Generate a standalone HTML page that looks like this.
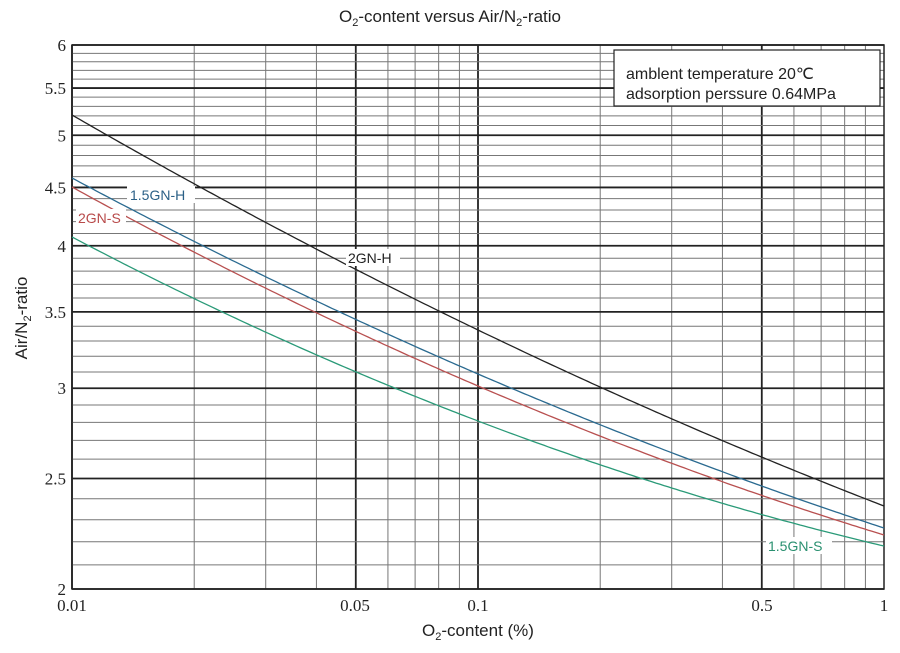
<!DOCTYPE html><html><head><style>body{margin:0;background:#fff}</style></head><body>
<svg width="900" height="648" xmlns="http://www.w3.org/2000/svg" font-family="Liberation Sans, sans-serif">
<g id="g"></g>
<rect x="72" y="45" width="812" height="544" fill="none" stroke="#222" stroke-width="1.5"/>
<g id="c"></g>
<rect x="614" y="50" width="266" height="56" fill="#fff" stroke="#222" stroke-width="1.2"/>
<text x="626" y="79" font-size="16" fill="#222">amblent temperature 20℃</text>
<text x="626" y="99" font-size="16" fill="#222">adsorption perssure  0.64MPa</text>
<text x="450" y="22" font-size="17" text-anchor="middle" fill="#222">O<tspan font-size="11" dy="4">2</tspan><tspan dy="-4">-content versus Air/N</tspan><tspan font-size="11" dy="4">2</tspan><tspan dy="-4">-ratio</tspan></text>
<text x="478" y="636" font-size="17" text-anchor="middle" fill="#222">O<tspan font-size="11" dy="4">2</tspan><tspan dy="-4">-content (%)</tspan></text>
<text transform="translate(27,318) rotate(-90)" font-size="17" text-anchor="middle" fill="#222">Air/N<tspan font-size="11" dy="4">2</tspan><tspan dy="-4">-ratio</tspan></text>
<g font-family="Liberation Serif, serif" font-size="17" fill="#222">
<text x="72" y="611" text-anchor="middle">0.01</text><text x="355" y="611" text-anchor="middle">0.05</text>
<text x="478" y="611" text-anchor="middle">0.1</text><text x="762" y="611" text-anchor="middle">0.5</text><text x="884" y="611" text-anchor="middle">1</text>
</g>
<g id="yl" font-family="Liberation Serif, serif" font-size="17" fill="#222" text-anchor="end"></g>
<g font-size="14">
<rect x="127" y="186" width="68" height="17" fill="#fff"/><text x="130" y="200" fill="#2a5f86">1.5GN-H</text>
<rect x="76" y="209" width="50" height="17" fill="#fff"/><text x="78" y="223" fill="#b84a4a">2GN-S</text>
<rect x="346" y="249" width="54" height="17" fill="#fff"/><text x="348" y="263" fill="#222">2GN-H</text>
<rect x="766" y="537" width="66" height="17" fill="#fff"/><text x="768" y="551" fill="#2a9070">1.5GN-S</text>
</g>
</svg>
<script>
var ns="http://www.w3.org/2000/svg",g=document.getElementById('g'),c=document.getElementById('c'),yl=document.getElementById('yl');
function L(p,x1,y1,x2,y2,w,col){var l=document.createElementNS(ns,'line');l.setAttribute('x1',x1);l.setAttribute('y1',y1);l.setAttribute('x2',x2);l.setAttribute('y2',y2);l.setAttribute('stroke',col);l.setAttribute('stroke-width',w);p.appendChild(l);}
function X(v){return 72+406*(Math.log10(v)+2);}
function Y(v){return 589-Math.log(v/2)/Math.log(3)*544;}
for(var d=0.01;d<0.5;d*=10)for(var k=1;k<10;k++){var v=d*k,h=(k==1||k==5);L(g,X(v),45,X(v),589,h?1.8:1,h?'#222':'#777');}
for(var i=20;i<=60;i++){var v=i/10,h=(i%5==0);L(g,72,Y(v),884,Y(v),h?1.8:1,h?'#222':'#777');
if(h){var t=document.createElementNS(ns,'text');t.setAttribute('x',66);t.setAttribute('y',Y(v)+6);t.textContent=(i%10==0)?(i/10)+'':(i/10).toFixed(1);yl.appendChild(t);}}
function C(a,b,e,col){var pts=[];for(var x=72;x<=884;x+=4){var t=(x-72)/406-1;var y=b+(e-a)/2*t+(a+e-2*b)/2*t*t;pts.push(x+','+y.toFixed(1));}
var p=document.createElementNS(ns,'polyline');p.setAttribute('points',pts.join(' '));p.setAttribute('fill','none');p.setAttribute('stroke',col);p.setAttribute('stroke-width',1.3);c.appendChild(p);}
C(115,330,506,'#222');C(178,374,528,'#2a6a90');C(187,386,535,'#b85050');C(237,421,546,'#2a9a78');
</script>
</body></html>
